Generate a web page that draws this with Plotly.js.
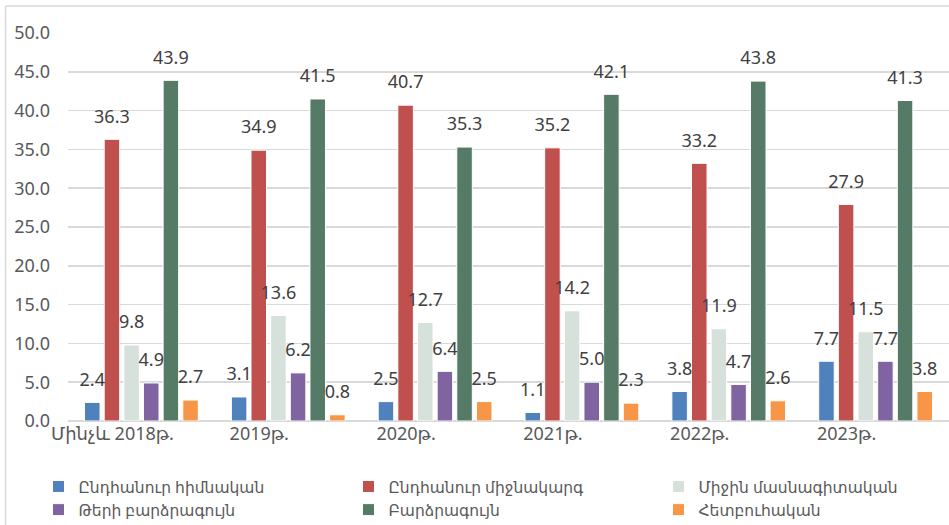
<!DOCTYPE html>
<html><head><meta charset="utf-8">
<script src="https://cdn.plot.ly/plotly-3.0.1.min.js"></script>
<style>html,body{margin:0;padding:0;background:#fff}#c{width:949px;height:525px}</style>
</head><body><div id="c"></div>
<script>
const categories = ["Մինչև 2018թ.", "2019թ.", "2020թ.", "2021թ.", "2022թ.", "2023թ."];
const seriesNames = ["Ընդհանուր հիմնական", "Ընդհանուր միջնակարգ", "Միջին մասնագիտական", "Թերի բարձրագույն", "Բարձրագույն", "Հետբուհական"];
const basicGeneral = [2.4, 3.1, 2.5, 1.1, 3.8, 7.7];
const secondaryGeneral = [36.3, 34.9, 40.7, 35.2, 33.2, 27.9];
const vocational = [9.8, 13.6, 12.7, 14.2, 11.9, 11.5];
const incompleteHigher = [4.9, 6.2, 6.4, 5.0, 4.7, 7.7];
const higher = [43.9, 41.5, 35.3, 42.1, 43.8, 41.3];
const postgraduate = [2.7, 0.8, 2.5, 2.3, 2.6, 3.8];
const seriesValues = [basicGeneral, secondaryGeneral, vocational, incompleteHigher, higher, postgraduate];
const colors = ["#4F81BD", "#C0504D", "#D6E1DB", "#8064A2", "#557B66", "#F79646"];
const FONT = "Noto Sans, DejaVu Sans, sans-serif";

const barTraces = seriesValues.map((vals, i) => ({
  type: "bar",
  name: seriesNames[i],
  x: categories,
  y: vals,
  marker: {color: colors[i], line: {color: "#ffffff", width: 1}},
  hoverinfo: "skip"
}));

const labelTraces = seriesValues.map((vals, i) => ({
  type: "scatter",
  mode: "markers+text",
  showlegend: false,
  x: categories,
  y: vals,
  marker: {size: 18, color: "rgba(0,0,0,0)"},
  text: vals.map(v => v.toFixed(1)),
  textposition: "top center",
  cliponaxis: false,
  textfont: {family: FONT, size: 18, color: "#404040"},
  hoverinfo: "skip"
}));

const layout = {
  width: 949, height: 525,
  margin: {l: 67.5, r: 0, t: 33, b: 103.5, autoexpand: false},
  paper_bgcolor: "#fff", plot_bgcolor: "#fff",
  font: {family: FONT, color: "#595959"},
  barmode: "group",
  bargap: 0.197,
  bargroupgap: 0.21,
  scattermode: "group",
  scattergap: 0.197,
  showlegend: true,
  legend: {
    orientation: "h", x: -0.0335, y: -0.126, xanchor: "left", yanchor: "top",
    entrywidth: 265, entrywidthmode: "pixels",
    font: {family: FONT, size: 15.5, color: "#595959"},
    itemwidth: 30, tracegroupgap: 0, traceorder: "normal", bgcolor: "rgba(0,0,0,0)"
  },
  xaxis: {
    type: "category", showgrid: false, zeroline: false, showline: false,
    ticks: "", ticklabelshift: -29,
    tickfont: {family: FONT, size: 18, color: "#595959"}
  },
  yaxis: {
    range: [0, 50], dtick: 5, tickformat: ".1f", showgrid: true,
    gridcolor: "#D9D9D9", gridwidth: 1.5, zeroline: true, zerolinecolor: "#D9D9D9", zerolinewidth: 1.5,
    showline: false, ticks: "", ticklabelstandoff: 17,
    tickfont: {family: FONT, size: 18, color: "#595959"}
  },
  shapes: [
    {type: "line", xref: "paper", yref: "paper", x0: -0.0709, x1: 1.01, y0: 1.0696, y1: 1.0696,
     line: {color: "#D9D9D9", width: 1.5}, layer: "below"},
    {type: "line", xref: "paper", yref: "paper", x0: -0.0709, x1: -0.0709, y0: 1.0696, y1: -0.27,
     line: {color: "#D9D9D9", width: 1.5}, layer: "below"}
  ]
};
Plotly.newPlot("c", barTraces.concat(labelTraces), layout, {displayModeBar: false, staticPlot: true});
</script></body></html>
